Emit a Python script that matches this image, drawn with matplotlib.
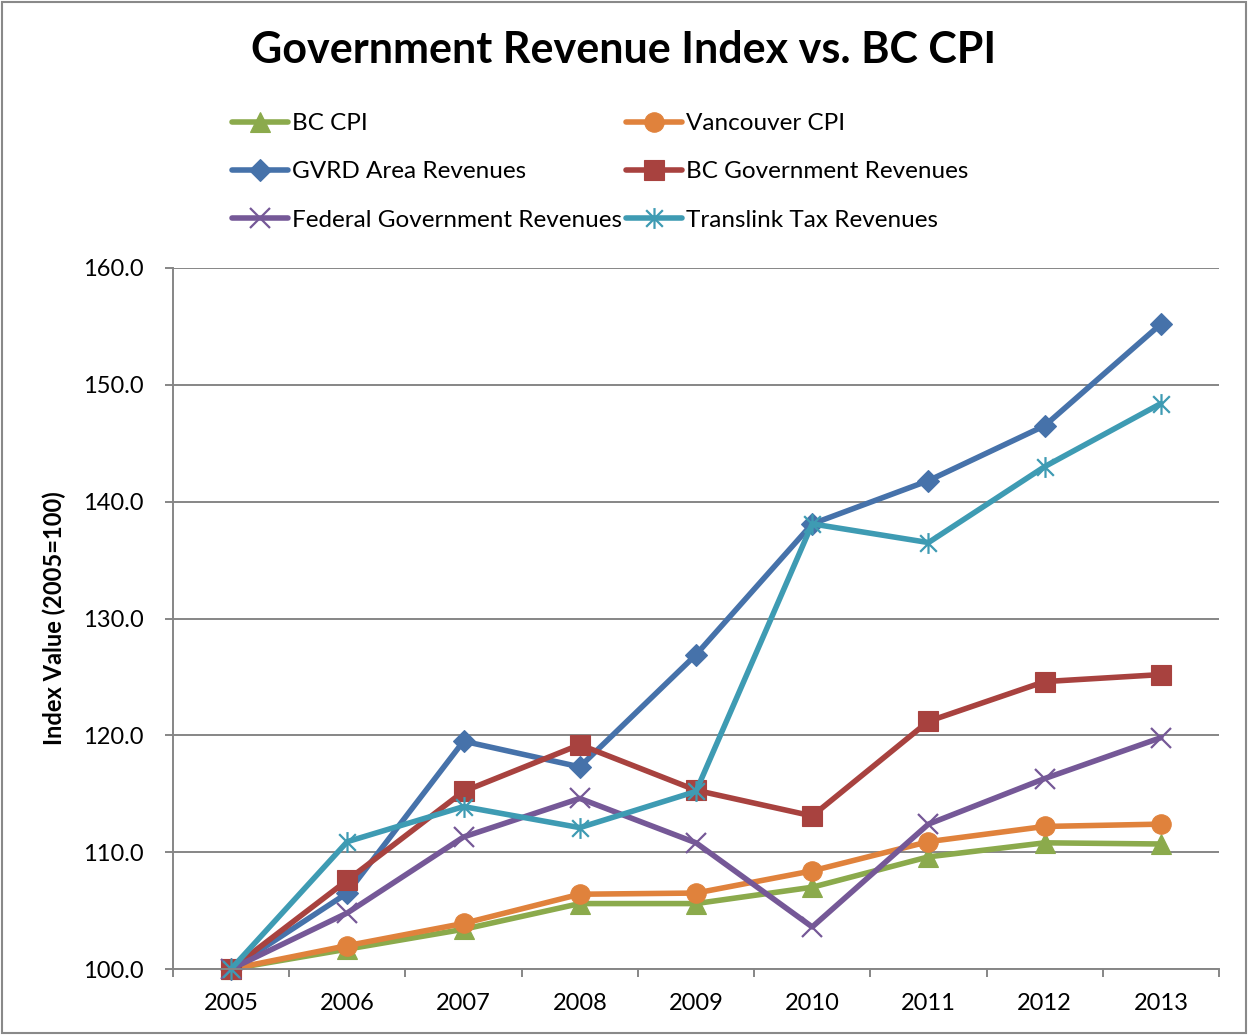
import numpy as np
import matplotlib
matplotlib.use('Agg')
import matplotlib.pyplot as plt
from matplotlib.path import Path
from matplotlib.patches import Rectangle
from matplotlib.ticker import FixedLocator, FormatStrFormatter

plt.rcParams['font.family'] = ['Lato', 'DejaVu Sans']

# ── Data (index, 2005 = 100) ──
years = ['2005', '2006', '2007', '2008', '2009', '2010', '2011', '2012', '2013']
bc_cpi = [100.0, 101.7, 103.4, 105.6, 105.6, 107.0, 109.6, 110.8, 110.7]
van_cpi = [100.0, 102.0, 103.9, 106.4, 106.5, 108.4, 110.9, 112.2, 112.4]
gvrd_rev = [100.0, 106.5, 119.5, 117.3, 126.9, 138.1, 141.8, 146.5, 155.2]
bcgov_rev = [100.0, 107.6, 115.2, 119.2, 115.3, 113.1, 121.2, 124.6, 125.2]
fed_rev = [100.0, 104.8, 111.3, 114.6, 110.8, 103.6, 112.4, 116.3, 119.8]
translink_rev = [100.0, 110.9, 113.9, 112.1, 115.2, 138.1, 136.5, 143.0, 148.4]

# Excel-style asterisk marker: vertical bar + X
star = Path([(0, -1), (0, 1), (-0.8, -0.8), (0.8, 0.8), (-0.8, 0.8), (0.8, -0.8)],
            [Path.MOVETO, Path.LINETO] * 3)

series = [
    ('BC CPI', bc_cpi, '#8BAA4C', '^', 14),
    ('Vancouver CPI', van_cpi, '#E0823C', 'o', 14),
    ('GVRD Area Revenues', gvrd_rev, '#4672AA', 'D', 11),
    ('BC Government Revenues', bcgov_rev, '#A8423F', 's', 14),
    ('Federal Government Revenues', fed_rev, '#755897', 'x', 15),
    ('Translink Tax Revenues', translink_rev, '#3E9BB3', star, 15),
]

W, H = 1249, 1035
fig = plt.figure(figsize=(W / 100, H / 100), dpi=100)
ax = fig.add_axes([173 / W, 1 - 969 / H, (1219 - 173) / W, (969 - 268) / H])

x = np.arange(len(years))
handles = {}
for name, vals, color, mk, ms in series:
    thin = mk in ('x',) or isinstance(mk, Path)
    line, = ax.plot(x, vals, color=color, lw=4.0, marker=mk, markersize=ms,
                    markerfacecolor='none' if thin else color,
                    markeredgecolor=color, markeredgewidth=1.6 if thin else 0.8,
                    solid_capstyle='round', clip_on=False)
    handles[name] = line

grid_c = '#868686'
ax.set_xlim(-0.5, len(years) - 0.5)
ax.set_ylim(100, 160)
ax.yaxis.set_major_locator(FixedLocator(np.arange(100, 161, 10)))
ax.yaxis.set_major_formatter(FormatStrFormatter('%.1f'))
ax.grid(axis='y', color=grid_c, lw=1.4)
ax.set_axisbelow(True)

# category boundaries carry the tick marks, category centres carry the labels
ax.xaxis.set_major_locator(FixedLocator(np.arange(-0.5, len(years), 1.0)))
ax.xaxis.set_major_formatter(plt.NullFormatter())
ax.xaxis.set_minor_locator(FixedLocator(x))
ax.set_xticklabels(years, minor=True)
ax.tick_params(axis='x', which='major', direction='out', length=6, width=1.4, color=grid_c)
ax.tick_params(axis='x', which='minor', length=0, pad=17, labelsize=17)
ax.tick_params(axis='y', direction='out', length=6, width=1.4, color=grid_c, pad=15,
               labelsize=17)

for s in ('top', 'right'):
    ax.spines[s].set_visible(False)
for s in ('left', 'bottom'):
    ax.spines[s].set_color(grid_c)
    ax.spines[s].set_linewidth(1.4)

ax.set_ylabel('Index Value (2005=100)', fontsize=17, fontweight='bold', labelpad=12)

fig.text(624 / W, 1 - 50 / H, 'Government Revenue Index vs. BC CPI', ha='center', va='center',
         fontsize=31, fontweight='bold')

order = ['BC CPI', 'GVRD Area Revenues', 'Federal Government Revenues',
         'Vancouver CPI', 'BC Government Revenues', 'Translink Tax Revenues']
fig.legend([handles[n] for n in order], order, ncol=2, loc='upper left',
           bbox_to_anchor=(232 / W, 1 - 113 / H), frameon=False, fontsize=17.5,
           handlelength=2.3, handletextpad=0.15, columnspacing=0.2,
           labelspacing=1.13, borderpad=0, borderaxespad=0, numpoints=1)

fig.patches.append(Rectangle((2 / W, 2 / H), 1 - 5 / W, 1 - 4 / H, transform=fig.transFigure,
                             fill=False, edgecolor='#898989', lw=1.5))

fig.savefig('out.png', dpi=100, facecolor='white')
